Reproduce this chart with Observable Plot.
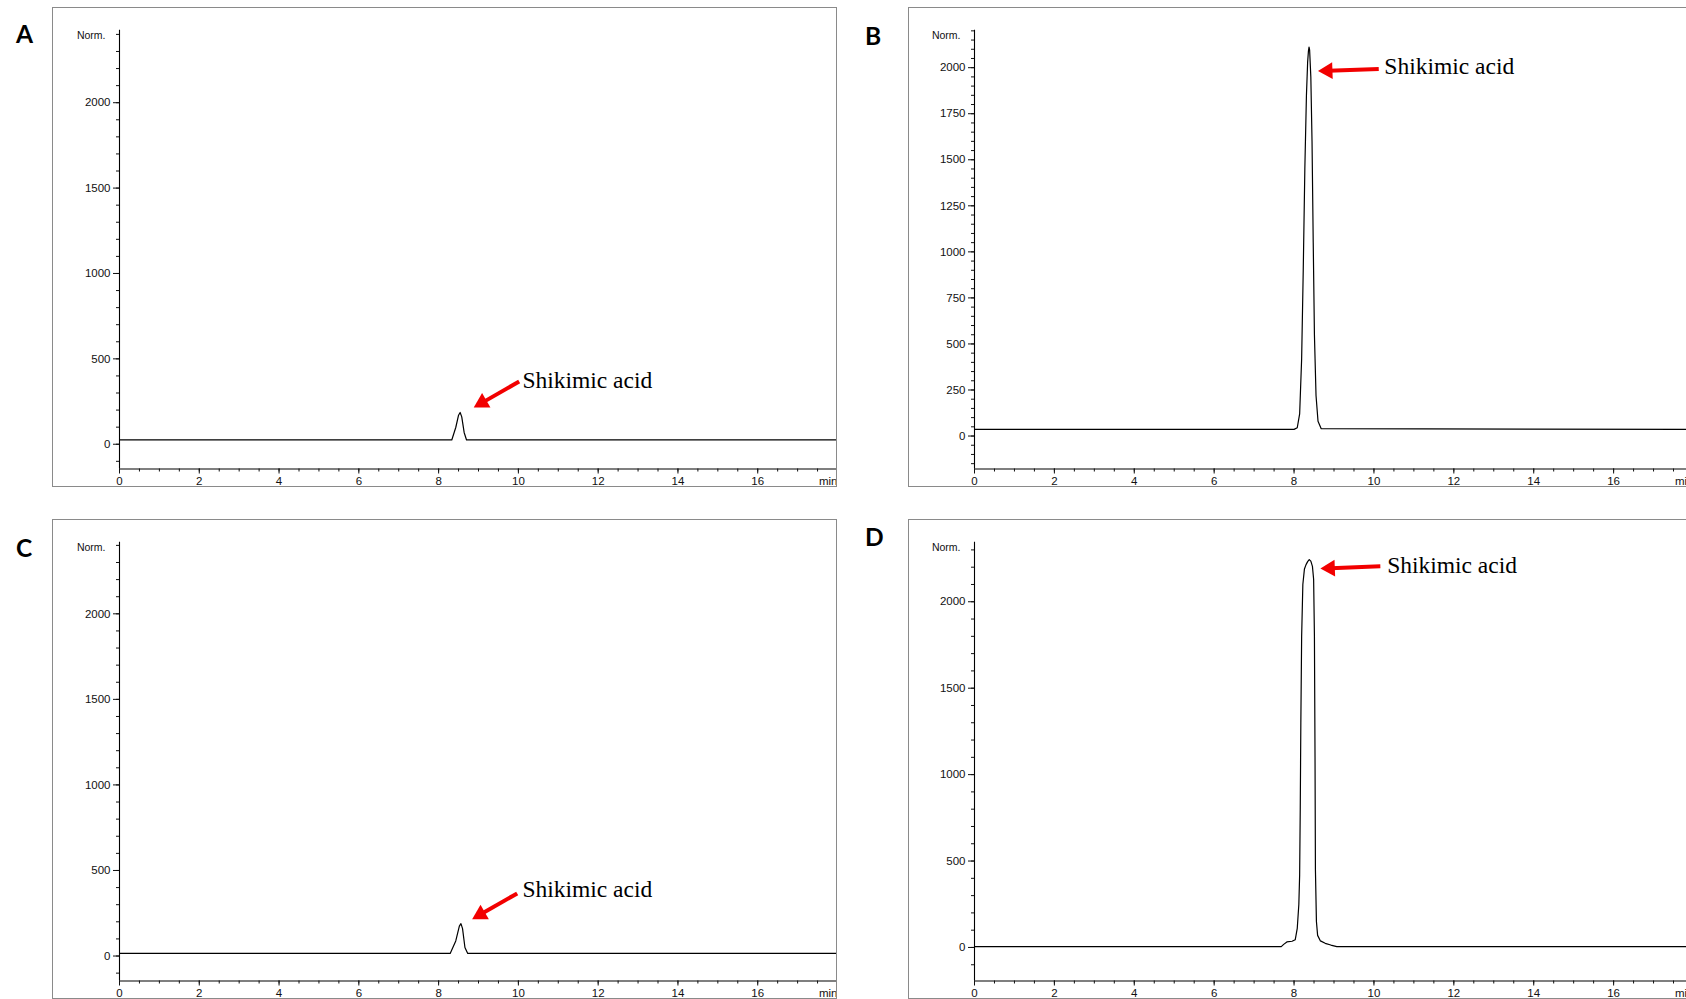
<!DOCTYPE html>
<html><head><meta charset="utf-8">
<script src="https://cdn.jsdelivr.net/npm/d3@7"></script>
<script src="https://cdn.jsdelivr.net/npm/@observablehq/plot@0.6"></script>
<style>
html,body{margin:0;padding:0;background:#fff;}
body{width:1686px;height:999px;overflow:hidden;position:relative;}
.panel{position:absolute;width:784px;height:488px;overflow:hidden;}
.panel svg{display:block;overflow:hidden;max-width:none !important;width:784px !important;height:488px !important;}
.frame{position:absolute;border:1px solid #8a8a8a;box-sizing:border-box;pointer-events:none;}
#letters{position:absolute;left:0;top:0;pointer-events:none;}
</style></head><body>
<script>
// ---- Data (retention time in min, detector signal "Norm.") ----
const timeA   = [0, 8.33, 8.43, 8.50, 8.54, 8.58, 8.64, 8.70, 18];
const signalA = [25, 25, 98, 170, 186, 160, 69, 25, 25];

const timeB   = [0, 8.00, 8.08, 8.14, 8.19, 8.23, 8.27, 8.31, 8.34, 8.36, 8.375, 8.39, 8.42, 8.45, 8.48, 8.51, 8.55, 8.60, 8.68, 18];
const signalB = [36, 36, 45, 120, 420, 900, 1450, 1850, 2030, 2090, 2112, 2095, 1950, 1600, 1050, 550, 220, 80, 40, 36];

const timeC   = [0, 8.29, 8.43, 8.52, 8.56, 8.60, 8.66, 8.73, 18];
const signalC = [15, 15, 88, 175, 189, 160, 50, 15, 15];

const timeD   = [0, 7.68, 7.74, 7.82, 7.95, 8.03, 8.08, 8.12, 8.14, 8.155, 8.17, 8.19, 8.22, 8.26, 8.30, 8.34, 8.38, 8.42, 8.46, 8.49, 8.51, 8.525, 8.535, 8.56, 8.59, 8.66, 8.78, 8.92, 9.07, 18];
const signalD = [5, 5, 18, 32, 36, 45, 110, 250, 420, 800, 1300, 1800, 2100, 2190, 2215, 2232, 2244, 2235, 2205, 2130, 1800, 1100, 450, 150, 70, 38, 24, 14, 5, 5];

// ---- Tick labels ----
const xTickLabels = [0, 2, 4, 6, 8, 10, 12, 14, 16];
const xUnitLabel = "min";
const yTicks500 = [0, 500, 1000, 1500, 2000];
const yTicks250 = [0, 250, 500, 750, 1000, 1250, 1500, 1750, 2000];
const yAxisLabel = "Norm.";
const panelLetters = ["A", "B", "C", "D"];

// ---- Annotation (label, tail of arrow, tip of arrow, text anchor) ----
const annLabel = "Shikimic acid";
const annTailX = [10.02, 10.12, 9.97, 10.16];
const annTailY = [368, 1993, 366, 2205];
const annTipX  = [8.89, 8.61, 8.85, 8.67];
const annTipY  = [216, 1982, 216, 2192];
const annTextX = [10.10, 10.26, 10.10, 10.33];
const annTextY = [374, 2005, 389, 2210];

// ---- Layout ----
const W = 784, H = 488, FH = 479, MT = 21.8, MB = 27.5;
const panels = [
  {ox: 52.5,  oy: 7.5,   ml: 66, t: timeA, s: signalA, yDomain: [-145, 2424], major: yTicks500, minorStep: 100},
  {ox: 908.5, oy: 7.5,   ml: 65, t: timeB, s: signalB, yDomain: [-179, 2203], major: yTicks250, minorStep: 50},
  {ox: 52.5,  oy: 519.5, ml: 66, t: timeC, s: signalC, yDomain: [-146, 2418], major: yTicks500, minorStep: 100},
  {ox: 908.5, oy: 519.5, ml: 65, t: timeD, s: signalD, yDomain: [-194, 2344], major: yTicks500, minorStep: 100}
];

const xMinor = d3.range(0, 18.001, 0.5);
const fmt = d => String(d);

panels.forEach((p, i) => {
  const data = p.t.map((t, k) => ({t, s: p.s[k]}));
  const yMinor = d3.range(Math.ceil(p.yDomain[0] / p.minorStep) * p.minorStep, p.yDomain[1], p.minorStep);
  const xs = d3.scaleLinear([0, 18], [p.ml, W]);
  const ys = d3.scaleLinear(p.yDomain, [H - MB, MT]);
  // arrow geometry in pixel space, converted back to data
  const tx = xs(annTailX[i]), ty = ys(annTailY[i]);
  const hx = xs(annTipX[i]), hy = ys(annTipY[i]);
  const len = Math.hypot(hx - tx, hy - ty);
  const ux = (hx - tx) / len, uy = (hy - ty) / len;
  const ann = [{
    label: annLabel,
    tx: annTextX[i], ty: annTextY[i],
    x1: annTailX[i], y1: annTailY[i],
    x2: xs.invert(hx - 10 * ux), y2: ys.invert(hy - 10 * uy),
    cx: xs.invert(hx - 9.2 * ux), cy: ys.invert(hy - 9.2 * uy),
    rot: Math.atan2(ux, -uy) * 180 / Math.PI
  }];

  const plot = Plot.plot({
    width: W, height: H,
    marginLeft: p.ml, marginRight: 0, marginTop: MT, marginBottom: MB,
    x: {domain: [0, 18], axis: null},
    y: {domain: p.yDomain, axis: null},
    style: {fontFamily: "'Liberation Sans', Arial, sans-serif", fontSize: "11.5px", color: "#111", background: "transparent"},
    marks: [
      Plot.ruleX([0], {stroke: "#000", strokeWidth: 1.1}),
      Plot.ruleY([p.yDomain[0]], {stroke: "#000", strokeWidth: 1.1}),
      Plot.axisY(p.major, {anchor: "left", tickSize: 6, tickPadding: 3, tickFormat: fmt, label: null, fontSize: 11.5}),
      Plot.axisY(yMinor, {anchor: "left", tickSize: 3, tickFormat: () => "", label: null}),
      Plot.axisX(xTickLabels, {anchor: "bottom", tickSize: 5, tickPadding: 3, tickFormat: fmt, label: null, fontSize: 11.5}),
      Plot.axisX(xMinor, {anchor: "bottom", tickSize: 3, tickFormat: () => "", label: null}),
      Plot.axisX([18], {anchor: "bottom", tickSize: 0, tickPadding: 8, tickFormat: () => xUnitLabel, textAnchor: "end", label: null, fontSize: 11.5}),
      Plot.text([yAxisLabel], {text: d => d, frameAnchor: "top-left", lineAnchor: "middle", textAnchor: "end", dx: -14, dy: 5, fontSize: 10.5, fill: "#111"}),
      Plot.line(data, {x: "t", y: "s", stroke: "#000", strokeWidth: 1.2}),
      Plot.link(ann, {x1: "x1", y1: "y1", x2: "x2", y2: "y2", stroke: "#f20000", strokeWidth: 4}),
      Plot.dot(ann, {x: "cx", y: "cy", symbol: "triangle", r: 6.2, fill: "#f20000", stroke: "none", rotate: "rot"}),
      Plot.text(ann, {x: "tx", y: "ty", text: "label", textAnchor: "start", fontFamily: "'Liberation Serif', 'Times New Roman', serif", fontSize: 23.5, fill: "#000"})
    ]
  });
  const div = document.createElement("div");
  div.className = "panel";
  div.style.left = p.ox + "px";
  div.style.top = p.oy + "px";
  div.appendChild(plot);
  document.body.appendChild(div);
  const fr = document.createElement("div");
  fr.className = "frame";
  fr.style.left = (p.ox - 0.5) + "px";
  fr.style.top = (p.oy - 0.5) + "px";
  fr.style.width = (W + 1) + "px";
  fr.style.height = (FH + 1) + "px";
  document.body.appendChild(fr);
});

// panel letters
const letterPos = [[16, 42.7], [865, 44.5], [16, 556.7], [865, 545.5]];
const ns = "http://www.w3.org/2000/svg";
const svg = document.createElementNS(ns, "svg");
svg.setAttribute("id", "letters");
svg.setAttribute("width", 1686);
svg.setAttribute("height", 999);
panelLetters.forEach((L, i) => {
  const t = document.createElementNS(ns, "text");
  t.setAttribute("x", letterPos[i][0]);
  t.setAttribute("y", letterPos[i][1]);
  t.setAttribute("font-family", "Lato, 'Open Sans', sans-serif");
  t.setAttribute("font-weight", "700");
  t.setAttribute("font-size", "24.5");
  t.textContent = L;
  svg.appendChild(t);
});
document.body.appendChild(svg);
</script>
</body></html>
